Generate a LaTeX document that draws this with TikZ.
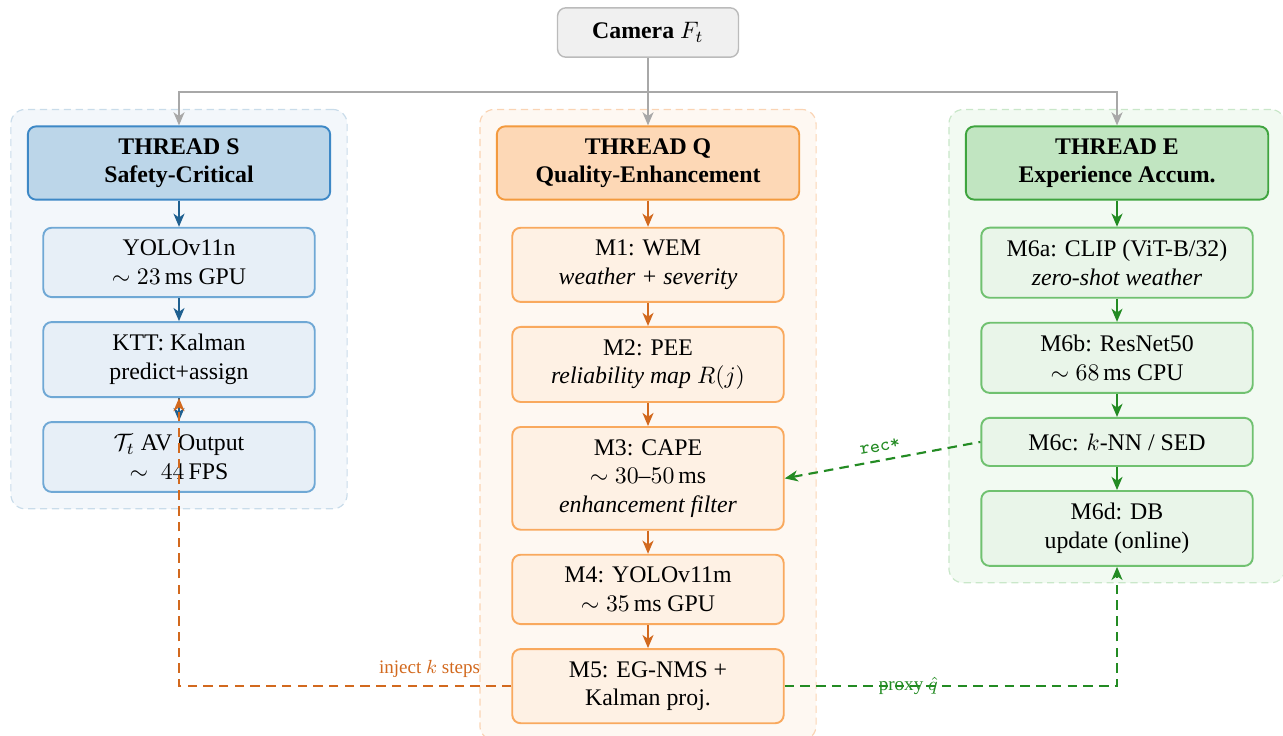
\documentclass[tikz,border=0pt]{standalone}
\usepackage{amsmath,amssymb}
\usepackage{fontspec}
\setmainfont{Liberation Serif}
\usepackage{xcolor}
\usepackage{tikz}
\usetikzlibrary{positioning,arrows.meta,fit,backgrounds}

\definecolor{camFill}{HTML}{F0F0F0}
\definecolor{camLine}{HTML}{BBBBBB}
\definecolor{feedLine}{HTML}{A8A8A8}
\definecolor{sHeadFill}{HTML}{BCD6E9}
\definecolor{sHeadLine}{HTML}{3D88C6}
\definecolor{sBoxFill}{HTML}{E7EFF7}
\definecolor{sBoxLine}{HTML}{6FA8D5}
\definecolor{sArrow}{HTML}{1F6090}
\definecolor{sPanel}{HTML}{F3F7FB}
\definecolor{sPanelLine}{HTML}{C9DCEA}
\definecolor{qHeadFill}{HTML}{FDD8B6}
\definecolor{qHeadLine}{HTML}{F39A3E}
\definecolor{qBoxFill}{HTML}{FEF1E4}
\definecolor{qBoxLine}{HTML}{F9A95E}
\definecolor{qArrow}{HTML}{D2691E}
\definecolor{qPanel}{HTML}{FEF8F2}
\definecolor{qPanelLine}{HTML}{FAD4B4}
\definecolor{eHeadFill}{HTML}{C1E5C1}
\definecolor{eHeadLine}{HTML}{3FA43F}
\definecolor{eBoxFill}{HTML}{E9F5E9}
\definecolor{eBoxLine}{HTML}{70C170}
\definecolor{eArrow}{HTML}{238B23}
\definecolor{ePanel}{HTML}{F2FAF2}
\definecolor{ePanelLine}{HTML}{C9E7C9}

\tikzset{
    box/.style={draw, rounded corners=3.5pt, line width=0.8pt, minimum width=114pt, inner ysep=5.2pt, align=center},
    headbox/.style={box, minimum width=127pt, inner ysep=5pt, font=\bfseries},
    cambox/.style={draw=camLine, fill=camFill, rounded corners=3.5pt, line width=0.6pt, minimum width=76pt, inner ysep=6.2pt, font=\bfseries},
    panel/.style={dashed, rounded corners=6pt, line width=0.5pt, inner sep=6.7pt, dash pattern=on 3pt off 2pt},
    link/.style={dashed, line width=0.9pt, dash pattern=on 4pt off 2.6pt},
    sbox/.style={box, draw=sBoxLine, fill=sBoxFill},
    qbox/.style={box, draw=qBoxLine, fill=qBoxFill},
    ebox/.style={box, draw=eBoxLine, fill=eBoxFill}
}

\begin{document}
\begin{tikzpicture}[x=0.42pt, y=-0.42pt, node distance=9.7pt, >={Stealth[length=5.5pt,width=4.6pt,inset=1.6pt]}]
    \useasboundingbox (0,0) rectangle (1283,735);

    % Camera
    \node[cambox] (cam) at (648,32.5) {Camera $F_t$};
    \coordinate (split) at (648,92);

    % Thread S
    \node[headbox, draw=sHeadLine, fill=sHeadFill] (hS) at (179,163) {THREAD S\\Safety-Critical};
    \node[sbox, below=11pt of hS] (s1) {YOLOv11n\\$\sim 23\,\mathrm{ms}$ GPU};
    \node[sbox, below=of s1] (s2) {KTT: Kalman\\predict+assign};
    \node[sbox, below=of s2] (s3) {$\mathcal{T}_t$ AV Output\\$\sim\ 44\,\mathrm{FPS}$};

    % Thread Q
    \node[headbox, draw=qHeadLine, fill=qHeadFill] (hQ) at (648,163) {THREAD Q\\Quality-Enhancement};
    \node[qbox, below=11pt of hQ] (q1) {M1: WEM\\\textit{weather + severity}};
    \node[qbox, below=of q1] (q2) {M2: PEE\\\textit{reliability map} $R(j)$};
    \node[qbox, below=of q2] (q3) {M3: CAPE\\$\sim 30\text{--}50\,\mathrm{ms}$\\\textit{enhancement filter}};
    \node[qbox, below=of q3] (q4) {M4: YOLOv11m\\$\sim 35\,\mathrm{ms}$ GPU};
    \node[qbox, below=of q4] (q5) {M5: EG-NMS +\\Kalman proj.};

    % Thread E
    \node[headbox, draw=eHeadLine, fill=eHeadFill] (hE) at (1117,163) {THREAD E\\Experience Accum.};
    \node[ebox, below=11pt of hE] (e1) {M6a: CLIP (ViT-B/32)\\\textit{zero-shot weather}};
    \node[ebox, below=of e1] (e2) {M6b: ResNet50\\$\sim 68\,\mathrm{ms}$ CPU};
    \node[ebox, below=of e2, minimum height=20.2pt] (e3) {M6c: $k$-NN / SED};
    \node[ebox, below=of e3] (e4) {M6d: DB\\update (online)};

    % Panels
    \begin{scope}[on background layer]
        \node[panel, draw=sPanelLine, fill=sPanel, fit=(hS)(s3)] (pS) {};
        \node[panel, draw=qPanelLine, fill=qPanel, fit=(hQ)(q5)] (pQ) {};
        \node[panel, draw=ePanelLine, fill=ePanel, fit=(hE)(e4)] (pE) {};
    \end{scope}

    % Camera feed
    \draw[->, feedLine, line width=0.9pt] (cam.south) -- (hQ.north);
    \draw[->, feedLine, line width=0.9pt] (split) -| (hS.north);
    \draw[->, feedLine, line width=0.9pt] (split) -| (hE.north);

    % Thread chains
    \foreach \a/\b in {hS/s1, s1/s2, s2/s3} \draw[->, sArrow, line width=0.9pt] (\a) -- (\b);
    \foreach \a/\b in {hQ/q1, q1/q2, q2/q3, q3/q4, q4/q5} \draw[->, qArrow, line width=0.9pt] (\a) -- (\b);
    \foreach \a/\b in {hE/e1, e1/e2, e2/e3, e3/e4} \draw[->, eArrow, line width=0.9pt] (\a) -- (\b);

    % Cross-thread links
    \draw[link, ->, qArrow] (q5.west) -| node[pos=0.123, above, font=\footnotesize] {inject $k$ steps} (s2.south);
    \draw[link, ->, eArrow] (q5.east) -| node[pos=0.186, font=\footnotesize] {proxy $\hat{q}$} (e4.south);
    \draw[link, <-, eArrow] (q3.east) -- node[above, sloped, font=\footnotesize\ttfamily] {rec*} (e3.west);
\end{tikzpicture}
\end{document}
